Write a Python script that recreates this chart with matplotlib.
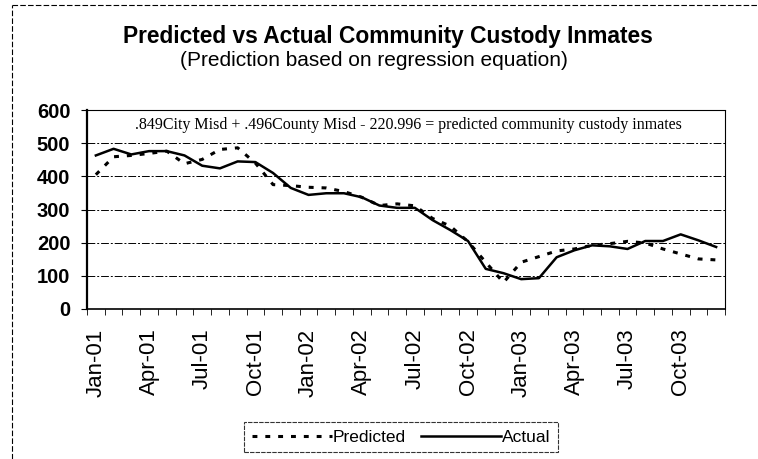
import matplotlib.pyplot as plt
from matplotlib.lines import Line2D

# Monthly data, Jan-01 .. Dec-03
months = ["Jan-01", "Feb-01", "Mar-01", "Apr-01", "May-01", "Jun-01",
          "Jul-01", "Aug-01", "Sep-01", "Oct-01", "Nov-01", "Dec-01",
          "Jan-02", "Feb-02", "Mar-02", "Apr-02", "May-02", "Jun-02",
          "Jul-02", "Aug-02", "Sep-02", "Oct-02", "Nov-02", "Dec-02",
          "Jan-03", "Feb-03", "Mar-03", "Apr-03", "May-03", "Jun-03",
          "Jul-03", "Aug-03", "Sep-03", "Oct-03", "Nov-03", "Dec-03"]

actual = [463, 483, 466, 476, 476, 463, 432, 424, 445, 443, 410, 365,
          344, 349, 349, 337, 312, 305, 305, 268, 238, 205, 121, 108,
          90, 93, 156, 177, 192, 189, 181, 205, 205, 225, 207, 187]

predicted = [405, 459, 463, 469, 476, 438, 451, 481, 486, 440, 375, 372,
             367, 365, 354, 337, 312, 317, 311, 273, 250, 203, 141, 80,
             141, 158, 175, 181, 192, 197, 204, 199, 181, 166, 151, 148]

yticks = [0, 100, 200, 300, 400, 500, 600]
equation = ".849City Misd + .496County Misd - 220.996 = predicted community custody inmates"

W, H = 758, 459
x = list(range(len(months)))

fig = plt.figure(figsize=(W / 100, H / 100), dpi=100)
ax = fig.add_axes([87 / W, 1 - 309 / H, (725 - 87) / W, (309 - 110) / H])

ax.plot(x, predicted, color='black', linestyle=(0, (1.6, 2.6)), linewidth=2.2,
        label='Predicted')
ax.plot(x, actual, color='black', linestyle='-', linewidth=1.8, label='Actual')

ax.set_xlim(-0.5, len(months) - 0.5)
ax.set_ylim(0, 600)
ax.set_yticks(yticks)
ax.set_yticklabels([str(v) for v in yticks], fontsize=14.5, fontweight='bold',
                   family='Liberation Sans')
ax.tick_params(axis='y', length=4, direction='out', pad=8)

# labels every 3rd month, tick marks between categories
ax.set_xticks(x[::3])
ax.set_xticklabels(months[::3], rotation=90, fontsize=16,
                   family='Liberation Sans')
ax.set_xticks([i - 0.5 for i in range(len(months) + 1)], minor=True)
ax.tick_params(axis='x', which='major', length=0, pad=14)
ax.tick_params(axis='x', which='minor', length=4, direction='out')

ax.grid(axis='y', color='black', linestyle=(0, (8, 2, 2, 2)), linewidth=0.7)
ax.set_axisbelow(True)
ax.spines['left'].set_linewidth(1.6)
ax.spines['bottom'].set_linewidth(1.2)
ax.spines['top'].set_linewidth(0.8)
ax.spines['right'].set_linewidth(0.8)
ax.spines['right'].set_linestyle((0, (4, 1)))

fig.text(408 / W, 1 - 125 / H, equation, ha='center', va='center',
         fontsize=11.5, family='Liberation Serif')

fig.text(388 / W, 1 - 36 / H, "Predicted vs Actual Community Custody Inmates",
         ha='center', va='center', fontsize=16.4, fontweight='bold',
         family='Liberation Sans')
fig.text(374 / W, 1 - 61 / H, "(Prediction based on regression equation)",
         ha='center', va='center', fontsize=15, family='Liberation Sans')

leg = fig.legend(loc='center', bbox_to_anchor=(401 / W, 1 - 437 / H),
                 ncol=2, frameon=True, fancybox=False, handlelength=4.6,
                 handletextpad=0.05, columnspacing=0.9, borderpad=0.45,
                 borderaxespad=0,
                 prop={'family': ['Liberation Sans Narrow', 'Liberation Sans'],
                       'size': 12.5})
leg.get_frame().set_edgecolor('black')
leg.get_frame().set_linewidth(0.8)
leg.get_frame().set_linestyle((0, (4, 1)))

# dashed top and left edge of the scanned chart frame
fig.add_artist(Line2D([12 / W, 1], [1 - 5 / H, 1 - 5 / H], transform=fig.transFigure,
                      color='black', linewidth=0.8, linestyle=(0, (5, 2))))
fig.add_artist(Line2D([12 / W, 12 / W], [0, 1 - 5 / H], transform=fig.transFigure,
                      color='black', linewidth=0.8, linestyle=(0, (5, 2))))

fig.savefig('out.png', dpi=100)
